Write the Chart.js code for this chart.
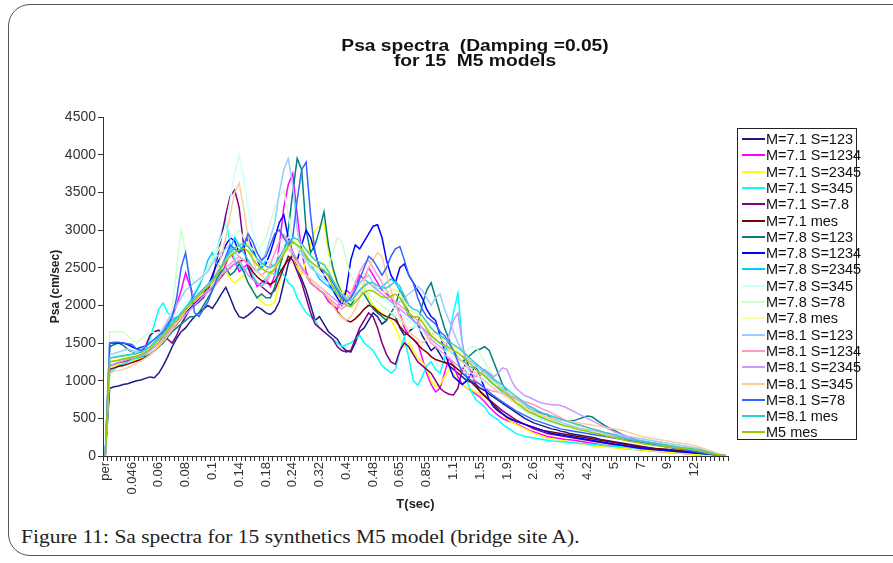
<!DOCTYPE html>
<html>
<head>
<meta charset="utf-8">
<script src="https://cdn.jsdelivr.net/npm/chart.js@4.4.1/dist/chart.umd.min.js"></script>
<style>
  body { margin: 0; background: #fff; width: 893px; height: 563px; position: relative; overflow: hidden; font-family: "Liberation Sans", Arial, sans-serif; }
  #frame { position: absolute; left: 8px; top: 4px; width: 920px; height: 552px; border: 1px solid #555; border-radius: 22px; box-sizing: border-box; }
  #chart { position: absolute; left: 0; top: 0; }
  #title { position: absolute; left: 275px; width: 400px; top: 38px; text-align: center; font-weight: bold; font-size: 16px; line-height: 15px; color: #111; white-space: pre; transform: scaleX(1.2); }
  #legend { position: absolute; left: 737px; top: 128px; width: 120px; height: 312px; border: 1px solid #222; box-sizing: border-box; }
  .item { position: absolute; left: 0; height: 16px; white-space: nowrap; font-size: 14.5px; line-height: 16px; color: #111; }
  .item span.swatch { position: absolute; left: 4px; top: 7px; width: 23px; height: 2px; }
  .item span.txt { position: absolute; left: 28px; top: 0; }
  #caption { position: absolute; left: 21px; top: 526px; font-family: "Liberation Serif", "DejaVu Serif", serif; font-size: 19px; color: #222; white-space: nowrap; transform: scaleX(1.13); transform-origin: left center; }
</style>
</head>
<body>
<div id="frame"></div>
<canvas id="chart" width="893" height="520"></canvas>
<div id="title">Psa spectra  (Damping =0.05)
for 15  M5 models</div>
<div id="legend"></div>
<div id="caption">Figure 11: Sa spectra for 15 synthetics M5 model (bridge site A).</div>
<script>
const periods = ["per","0.04","0.041","0.042","0.043","0.044",
    "0.046","0.048","0.05","0.052","0.055","0.058",
    "0.06","0.062","0.065","0.067","0.07","0.075",
    "0.08","0.082","0.085","0.09","0.093","0.095",
    "0.1","0.11","0.12","0.125","0.13","0.135",
    "0.14","0.145","0.15","0.16","0.165","0.17",
    "0.18","0.19","0.2","0.21","0.22","0.23",
    "0.24","0.25","0.26","0.28","0.29","0.3",
    "0.32","0.34","0.35","0.36","0.38","0.39",
    "0.4","0.42","0.43","0.44","0.45","0.46",
    "0.48","0.5","0.55","0.56","0.6","0.62",
    "0.65","0.67","0.7","0.75","0.78","0.8",
    "0.85","0.9","0.95","1","1.02","1.05",
    "1.1","1.2","1.25","1.3","1.4","1.45",
    "1.5","1.55","1.6","1.7","1.8","1.85",
    "1.9","2","2.1","2.2","2.4","2.5",
    "2.6","2.8","2.9","3","3.2","3.3",
    "3.4","3.6","3.7","3.8","4","4.1",
    "4.2","4.4","4.5","4.6","4.8","4.9",
    "5","5.5","5.8","6","6.5","6.8",
    "7","7.5","7.8","8","8.5","8.8",
    "9","9.5","10","10.5","11","11.5",
    "12","12.5","13","14","15","16","18","20"];
// only every 6th period gets a label, up to 12 s
const lastLabelled = 132;

// Psa (cm/sec), one value per period
const m71s123 = [0,900,920,930,950,960,980,1000,1010,1030,1050,1040,1100,1200,1320,1450,1560,1650,1700,1780,
    1850,1900,1950,2000,1960,2050,2150,2240,2100,1950,1850,1830,1870,1920,1980,1950,1900,1880,1930,2050,
    2300,2550,2700,2500,2350,2200,2000,1800,1850,1750,1650,1600,1550,1450,1400,1380,1500,1650,1700,1800,
    1900,1850,1750,1800,1900,1850,1700,1600,1650,1700,1750,1600,1500,1400,1450,1350,1250,1200,1150,1100,
    1050,1000,980,950,900,870,820,780,740,700,660,620,580,540,500,470,440,420,400,380,
    360,350,330,320,300,290,280,270,260,250,235,220,210,200,190,180,170,160,150,140,
    130,120,110,100,95,90,85,80,70,65,60,55,50,45,40,35,30,20,10,5];
const m71s1234 = [0,1200,1210,1230,1220,1250,1270,1300,1320,1380,1400,1450,1500,1600,1700,1850,2000,2200,2430,2250,
    2100,2050,2150,2200,2250,2300,2400,2550,2700,2600,2450,2500,2550,2400,2250,2300,2350,2250,2400,2800,
    3300,3600,3750,3200,2700,2450,2300,2250,2200,2150,2050,2000,1950,2100,2200,2150,2250,2400,2350,2500,
    2400,2300,2200,2150,2100,2000,1900,1700,1600,1550,1500,1300,1100,950,850,900,1100,1300,1200,1050,
    950,900,870,820,780,720,650,590,540,500,470,450,430,400,370,340,320,300,280,260,
    250,240,230,220,215,210,200,190,180,170,160,150,140,130,120,110,100,95,90,85,
    80,75,70,65,60,55,50,45,40,35,30,25,20,15,10,10,5,5,0,0];
const m71s2345 = [0,1180,1200,1220,1230,1250,1260,1280,1300,1320,1350,1400,1480,1550,1650,1700,1750,1850,1950,2000,
    2050,2100,2150,2200,2250,2300,2400,2450,2350,2300,2350,2400,2300,2200,2100,2050,2000,2000,2050,2300,
    2500,2650,2600,2500,2400,2600,2800,3000,3050,3100,2700,2450,2300,2200,2150,2100,2200,2300,2250,2100,
    2000,1950,1900,1850,1800,1700,1550,1450,1500,1400,1300,1250,1150,1000,920,950,1050,1150,1100,1000,
    950,900,880,850,820,780,720,650,600,550,500,450,420,390,360,330,300,280,260,240,
    230,220,210,200,190,180,170,160,150,140,130,125,120,115,110,105,100,95,90,85,
    80,75,70,65,60,55,50,45,40,35,30,25,20,15,10,5,5,0,0,0];
const m71s345 = [0,1100,1150,1200,1220,1250,1280,1300,1350,1400,1550,1750,1950,2030,1900,1850,1800,1900,1950,2050,
    2150,2250,2400,2500,2600,2750,2950,3150,2800,2600,2500,2450,2500,2400,2300,2250,2350,2450,2400,2500,
    2400,2300,2250,2100,2000,1900,1850,1800,1700,1650,1600,1550,1500,1450,1480,1500,1550,1600,1500,1450,
    1400,1300,1200,1150,1100,1150,1400,1580,1300,1000,940,1050,1200,1250,1150,1100,1300,1600,1900,2160,
    1500,1000,850,750,700,650,560,520,480,420,380,340,300,280,260,250,240,230,220,210,
    200,195,190,185,180,175,170,165,160,155,150,145,140,135,130,125,120,115,110,105,
    100,95,90,85,80,75,70,65,60,55,50,45,40,35,30,25,20,15,10,5];
const m71s78 = [0,1200,1220,1240,1250,1270,1300,1320,1350,1450,1600,1650,1670,1600,1550,1500,1600,1750,1850,1950,
    2000,2050,2100,2200,2350,2600,2900,3200,3450,3530,3300,2800,2500,2350,2300,2250,2200,2150,2200,2350,
    2500,2650,2600,2450,2300,2100,1900,1750,1700,1650,1600,1550,1450,1400,1380,1400,1550,1700,1800,1900,
    1850,1700,1500,1350,1250,1220,1400,1500,1450,1350,1250,1200,1150,1100,1000,900,850,820,810,900,
    1150,1250,1100,950,850,800,750,700,650,600,560,520,480,450,420,390,360,340,320,300,
    290,280,270,260,250,240,230,220,210,200,190,180,170,160,150,145,140,130,125,120,
    110,100,95,90,85,80,75,70,65,60,55,50,45,40,35,30,25,20,15,10];
const m71mes = [0,1150,1170,1190,1200,1220,1240,1260,1280,1310,1350,1400,1450,1520,1600,1680,1750,1820,1900,1960,
    2020,2080,2130,2180,2230,2300,2380,2450,2500,2550,2580,2600,2550,2450,2380,2330,2300,2280,2320,2420,
    2520,2600,2650,2600,2500,2400,2300,2250,2200,2150,2100,2000,1920,1850,1800,1780,1820,1880,1950,2000,
    1980,1920,1880,1850,1830,1800,1720,1650,1600,1550,1480,1420,1380,1320,1280,1260,1240,1230,1200,1150,
    1100,1050,980,920,860,800,740,680,620,560,510,480,460,440,420,400,380,360,340,330,
    320,310,300,290,280,270,260,250,240,230,220,210,200,190,180,170,160,150,140,130,
    120,110,105,100,95,90,85,80,75,70,60,55,50,45,40,35,30,20,10,5];
const m78s123 = [0,1450,1480,1500,1470,1420,1380,1350,1330,1320,1350,1400,1450,1500,1580,1650,1700,1750,1800,1850,
    1850,1900,2000,2100,2200,2350,2450,2500,2400,2450,2550,2450,2300,2200,2100,2150,2100,2100,2250,2500,
    2700,3000,3500,3950,3800,3000,2700,2800,3000,3240,2800,2500,2300,2150,2050,2000,2100,2200,2150,2050,
    1950,1900,1850,1800,1900,2000,2200,2100,1900,1800,1750,2000,2200,2300,2100,1900,1700,1550,1400,1300,
    1250,1300,1350,1400,1420,1450,1400,1250,1100,950,850,800,760,700,650,620,600,580,560,550,
    500,490,480,470,460,470,490,510,530,520,480,440,400,370,340,310,280,250,230,210,
    180,170,160,150,140,130,120,110,100,95,90,80,70,60,50,40,30,20,10,5];
const m78s1234 = [0,1500,1500,1500,1500,1480,1450,1420,1440,1460,1500,1550,1600,1650,1700,1750,1800,1850,1900,1950,
    2000,2050,2150,2250,2400,2550,2650,2800,2900,2850,2700,2750,2900,2750,2600,2500,2550,2700,2900,3100,
    3200,2900,2700,2600,2800,3000,2900,2700,2500,2400,2300,2200,2100,2000,2200,2600,2800,2750,2850,2950,
    3050,3070,2900,2600,2400,2300,2500,2550,2400,2300,2200,2100,1950,1850,1800,1600,1400,1200,1050,1000,
    950,1000,1100,1200,1050,900,750,650,600,560,520,490,460,440,420,400,380,360,340,320,
    300,290,280,270,260,250,240,230,220,210,200,190,180,170,160,150,140,130,120,110,
    100,95,90,85,80,75,70,65,60,55,50,45,40,35,30,25,20,15,10,5];
const m78s2345 = [0,1300,1310,1320,1330,1340,1320,1300,1310,1350,1400,1500,1600,1700,1750,1800,1850,1850,1950,2050,
    2150,2250,2400,2600,2700,2550,2500,2600,2750,2900,2800,2700,2600,2500,2450,2500,2600,2550,2500,2600,
    2700,2800,2850,2800,2700,2650,2550,2450,2350,2300,2250,2200,2150,2100,2050,2100,2200,2300,2350,2300,
    2250,2200,2250,2300,2350,2300,2200,2000,1850,1800,1750,1700,1650,1600,1550,1500,1450,1400,1350,1300,
    1250,1200,1180,1150,1100,1080,1000,950,900,850,800,750,700,660,620,590,560,530,500,480,
    460,440,420,410,400,390,380,370,350,330,310,300,290,280,270,260,250,240,230,220,
    210,200,190,180,170,160,150,140,130,120,110,100,90,80,70,60,40,25,10,5];
const m78s345 = [0,1300,1320,1340,1350,1360,1380,1400,1420,1450,1500,1560,1620,1700,1780,1850,1900,1950,2000,2100,
    2200,2300,2400,2500,2600,2750,2900,3050,3400,3750,4000,3700,3300,3000,2800,2700,2600,2550,2600,2700,
    2800,2900,2950,2800,2700,2600,2500,2450,2400,2350,2300,2250,2200,2150,2100,2050,2100,2150,2200,2250,
    2200,2150,2100,2050,2000,1950,1900,1850,1800,1750,1700,1650,1600,1550,1500,1450,1400,1350,1300,1250,
    1200,1150,1100,1060,1020,980,940,900,860,820,780,740,700,660,630,600,570,540,520,500,
    480,460,440,420,400,380,370,360,350,340,330,320,310,300,290,280,270,260,250,240,
    230,220,210,200,190,180,170,160,150,140,130,120,110,100,80,60,40,20,10,5];
const m78s78 = [0,1650,1650,1650,1650,1600,1550,1500,1550,1600,1650,1640,1620,1700,1800,1950,2500,3000,2700,2400,
    2300,2350,2400,2500,2600,2700,2800,2850,2900,2950,3000,2900,2800,2750,2700,2800,2900,3100,3300,3450,
    3530,3200,2900,2750,2650,2600,2550,2500,2450,2400,2500,2700,2900,2850,2600,2400,2300,2250,2200,2150,
    2100,2050,2000,1950,1900,1850,1800,1750,1700,1700,1750,1800,1750,1700,1650,1600,1550,1500,1450,1400,
    1350,1400,1450,1450,1350,1250,1150,1050,950,870,800,740,690,640,600,560,530,500,480,460,
    440,420,400,390,380,370,360,350,340,330,320,310,300,290,280,270,260,250,240,230,
    220,210,200,190,180,170,160,150,140,130,120,110,100,90,80,60,40,25,10,5];
const m78mes = [0,1280,1290,1300,1310,1320,1330,1340,1360,1390,1430,1490,1550,1610,1680,1750,1810,1880,1950,2020,
    2080,2140,2200,2260,2320,2400,2500,2600,2680,2750,2800,2820,2780,2680,2600,2550,2500,2480,2520,2620,
    2720,2820,2880,2850,2800,2720,2650,2600,2580,2560,2480,2350,2250,2150,2080,2050,2100,2180,2240,2270,
    2260,2220,2180,2170,2190,2210,2160,2060,1950,1900,1890,1820,1740,1650,1590,1550,1510,1480,1440,1410,
    1360,1310,1250,1190,1140,1090,1040,980,940,900,850,800,740,700,650,610,590,560,540,510,
    490,470,450,430,420,400,380,370,360,340,330,310,295,280,270,250,235,220,210,200,
    190,180,165,155,150,140,130,125,115,110,105,100,90,80,65,50,35,20,10,5];
const m81s123 = [0,1350,1360,1380,1400,1420,1400,1380,1400,1450,1500,1550,1600,1700,1800,1900,2000,2100,2200,2250,
    2300,2350,2400,2450,2550,2650,2700,2750,2800,2700,2650,2600,2550,2500,2450,2550,2700,2900,3100,3500,
    3800,3950,3600,3000,2700,2600,2500,2450,2400,2350,2300,2250,2200,2150,2100,2150,2200,2300,2350,2400,
    2300,2200,2150,2100,2050,2000,2050,2100,2150,2200,2250,2200,2100,2000,2100,2150,1950,1800,1650,1500,
    1400,1300,1250,1200,1150,1100,1050,1000,950,900,850,800,760,720,680,640,600,570,540,510,
    490,470,450,430,410,390,370,360,350,340,330,320,310,300,290,280,270,260,250,240,
    230,220,210,200,190,180,170,160,150,140,130,120,110,100,80,60,40,20,10,5];
const m81s1234 = [0,1250,1260,1270,1280,1290,1300,1310,1330,1360,1400,1450,1500,1570,1650,1720,1800,1870,1940,2000,
    2050,2100,2150,2200,2250,2300,2400,2500,2550,2600,2650,2600,2550,2500,2450,2400,2450,2550,2700,2850,
    2940,2850,2700,2600,2500,2400,2300,2250,2200,2150,2100,2050,2000,1950,2000,2150,2300,2450,2550,2600,
    2500,2400,2300,2200,2100,2050,2000,1950,1900,1850,1800,1700,1600,1500,1450,1400,1350,1300,1250,1200,
    1150,1100,1050,1000,950,900,880,860,850,830,800,780,760,740,720,700,680,650,620,600,
    570,540,510,480,460,440,420,400,380,360,340,320,300,280,260,250,240,230,220,210,
    200,190,180,170,160,150,140,130,120,110,100,90,80,70,60,50,40,25,10,5];
const m81s2345 = [0,1200,1220,1240,1260,1280,1300,1320,1340,1370,1400,1450,1500,1560,1630,1700,1760,1820,1880,1940,
    2000,2060,2120,2180,2250,2320,2400,2450,2500,2550,2600,2500,2400,2350,2300,2250,2300,2400,2500,2600,
    2700,2750,2700,2600,2500,2400,2350,2300,2250,2200,2150,2100,2050,2000,2050,2100,2150,2200,2250,2300,
    2250,2200,2150,2100,2050,2000,1950,1900,1850,1800,1750,1700,1650,1550,1500,1450,1400,1600,1800,1900,
    1500,1200,1100,1050,1100,1150,1100,1050,1100,1170,1150,1000,900,850,800,780,750,720,700,690,
    680,680,670,650,620,590,560,530,500,470,440,410,380,350,320,300,280,260,240,220,
    200,190,180,170,160,150,140,130,120,110,100,90,80,70,60,50,40,25,10,5];
const m81s345 = [0,1100,1120,1140,1150,1170,1200,1230,1260,1300,1340,1400,1460,1520,1600,1680,1760,1840,1920,2000,
    2100,2150,2200,2250,2300,2450,2650,2900,3200,3500,3620,3300,2900,2600,2450,2400,2350,2400,2500,2600,
    2700,2750,2650,2550,2450,2400,2350,2300,2250,2200,2100,2000,1900,1850,1800,1850,1950,2100,2300,2500,
    2600,2700,2650,2400,2200,2000,1850,1750,1650,1600,1550,1500,1550,1600,1650,1600,1500,1400,1350,1300,
    1250,1200,1150,1100,1050,1000,950,900,860,820,780,740,700,670,640,610,580,560,540,520,
    500,490,480,470,460,450,440,430,420,410,400,390,380,370,360,350,340,320,300,280,
    260,250,240,230,220,210,200,190,180,170,160,150,140,120,100,80,60,40,20,5];
const m81s78 = [0,1500,1510,1510,1500,1490,1480,1420,1400,1450,1500,1550,1600,1650,1750,1850,2100,2500,2700,2300,
    1900,1850,1950,2050,2200,2350,2500,2650,2800,2750,2700,2800,2950,2850,2700,2600,2650,2800,2950,3000,
    2900,2800,2900,3400,3800,3900,3200,2700,2500,2450,2400,2300,2200,2100,2050,2100,2200,2350,2500,2650,
    2600,2500,2400,2500,2650,2750,2780,2600,2400,2300,2100,1950,1850,1800,1750,1650,1600,1500,1400,1250,
    1100,1050,1000,980,950,900,850,800,760,720,680,640,600,570,540,510,480,460,440,420,
    400,380,360,350,340,330,320,310,300,290,280,270,260,250,240,230,220,210,200,190,
    180,170,160,150,140,130,120,110,100,90,80,70,60,50,40,30,20,15,10,5];
const m81mes = [0,1300,1310,1320,1330,1340,1350,1360,1380,1410,1450,1510,1570,1630,1700,1770,1830,1900,1970,2040,
    2100,2160,2220,2280,2340,2420,2520,2620,2700,2760,2800,2820,2780,2700,2620,2560,2520,2500,2540,2640,
    2740,2840,2900,2880,2820,2740,2660,2600,2570,2540,2450,2330,2230,2140,2080,2060,2120,2200,2260,2300,
    2300,2260,2230,2230,2270,2320,2250,2130,2000,1950,1930,1860,1780,1700,1640,1600,1560,1520,1480,1440,
    1390,1340,1280,1230,1180,1130,1080,1020,980,940,890,840,790,750,700,660,630,600,570,550,
    530,510,490,470,450,430,410,400,380,360,350,330,310,300,280,260,250,230,220,210,
    200,190,180,170,160,150,140,130,120,110,105,100,90,80,70,55,40,25,10,5];
const m5mes = [0,1250,1260,1270,1290,1300,1310,1320,1350,1380,1420,1480,1540,1600,1670,1740,1800,1870,1940,2010,
    2070,2130,2190,2250,2300,2390,2500,2580,2650,2700,2740,2760,2720,2620,2540,2490,2450,2430,2480,2580,
    2680,2780,2840,2800,2750,2660,2580,2530,2500,2470,2380,2250,2150,2060,2000,1980,2040,2110,2170,2200,
    2190,2150,2110,2100,2120,2150,2100,2000,1880,1850,1850,1780,1690,1600,1540,1500,1470,1440,1400,1370,
    1320,1270,1210,1150,1100,1060,1010,950,910,870,820,770,710,670,620,580,560,530,510,480,
    460,440,420,400,390,370,350,340,330,310,300,285,270,255,245,230,215,200,190,180,
    170,160,150,140,135,125,120,115,105,100,95,90,80,70,55,40,30,15,10,5];

const seriesNames = ["M=7.1 S=123","M=7.1 S=1234","M=7.1 S=2345","M=7.1 S=345","M=7.1 S=7.8","M=7.1 mes",
    "M=7.8 S=123","M=7.8 S=1234","M=7.8 S=2345","M=7.8 S=345","M=7.8 S=78","M=7.8 mes",
    "M=8.1 S=123","M=8.1 S=1234","M=8.1 S=2345","M=8.1 S=345","M=8.1 S=78","M=8.1 mes","M5 mes"];
const seriesValues = [m71s123, m71s1234, m71s2345, m71s345, m71s78, m71mes,
    m78s123, m78s1234, m78s2345, m78s345, m78s78, m78mes,
    m81s123, m81s1234, m81s2345, m81s345, m81s78, m81mes, m5mes];
const yTicks = [0, 500, 1000, 1500, 2000, 2500, 3000, 3500, 4000, 4500];

// old excel palette
const colors = ["#1a1a8c","#ff00ff","#ffff00","#00ffff","#800080","#800000",
    "#008080","#0000ff","#00ccff","#ccffff","#ccffcc","#ffff99",
    "#99ccff","#ff99cc","#cc99ff","#ffcc99","#3366ff","#33cccc","#99cc00"];

const fontFamily = '"Liberation Sans", Arial, sans-serif';

const datasets = seriesValues.map((vals, k) => ({
    label: seriesNames[k],
    data: vals,
    borderColor: colors[k],
    backgroundColor: colors[k],
    borderWidth: 1.5,
    pointRadius: 0,
    tension: 0,
    fill: false,
    order: seriesValues.length - k
}));

const ctx = document.getElementById("chart").getContext("2d");
new Chart(ctx, {
    type: "line",
    data: { labels: periods, datasets: datasets },
    options: {
        responsive: false,
        animation: false,
        layout: { padding: { left: 44, right: 165, top: 117, bottom: 0 } },
        plugins: { legend: { display: false }, title: { display: false }, tooltip: { enabled: false } },
        scales: {
            x: {
                type: "category",
                offset: true,
                grid: { display: true, drawOnChartArea: false, offset: true, tickLength: 5, color: "#333" },
                border: { display: true, color: "#333" },
                ticks: {
                    autoSkip: false, minRotation: 90, maxRotation: 90, padding: 1,
                    color: "#333", font: { family: fontFamily, size: 13 },
                    callback: (v, i) => (i % 6 === 0 && i <= lastLabelled ? periods[i] : "")
                },
                title: { display: true, text: "T(sec)", color: "#222", font: { family: fontFamily, size: 13, weight: "bold" }, padding: { top: 0, bottom: 8 } },
                afterFit: s => { s.height = 64; }
            },
            y: {
                min: 0, max: 4500,
                grid: { display: true, drawOnChartArea: false, tickLength: 5, color: "#333" },
                border: { display: true, color: "#333" },
                afterBuildTicks: s => { s.ticks = yTicks.map(v => ({ value: v })); },
                ticks: { color: "#333", padding: 2, font: { family: fontFamily, size: 14 }, callback: v => String(v) },
                title: { display: true, text: "Psa (cm/sec)", color: "#222", font: { family: fontFamily, size: 12, weight: "bold" }, padding: { top: 4, bottom: 4 } },
                afterFit: s => { s.width = 59; }
            }
        }
    }
});

// legend box
const legend = document.getElementById("legend");
seriesNames.forEach((name, k) => {
    const item = document.createElement("div");
    item.className = "item";
    item.style.top = (2 + k * 16.3) + "px";
    item.innerHTML = '<span class="swatch" style="background:' + colors[k] + '"></span><span class="txt">' + name + '</span>';
    legend.appendChild(item);
});
</script>
</body>
</html>
